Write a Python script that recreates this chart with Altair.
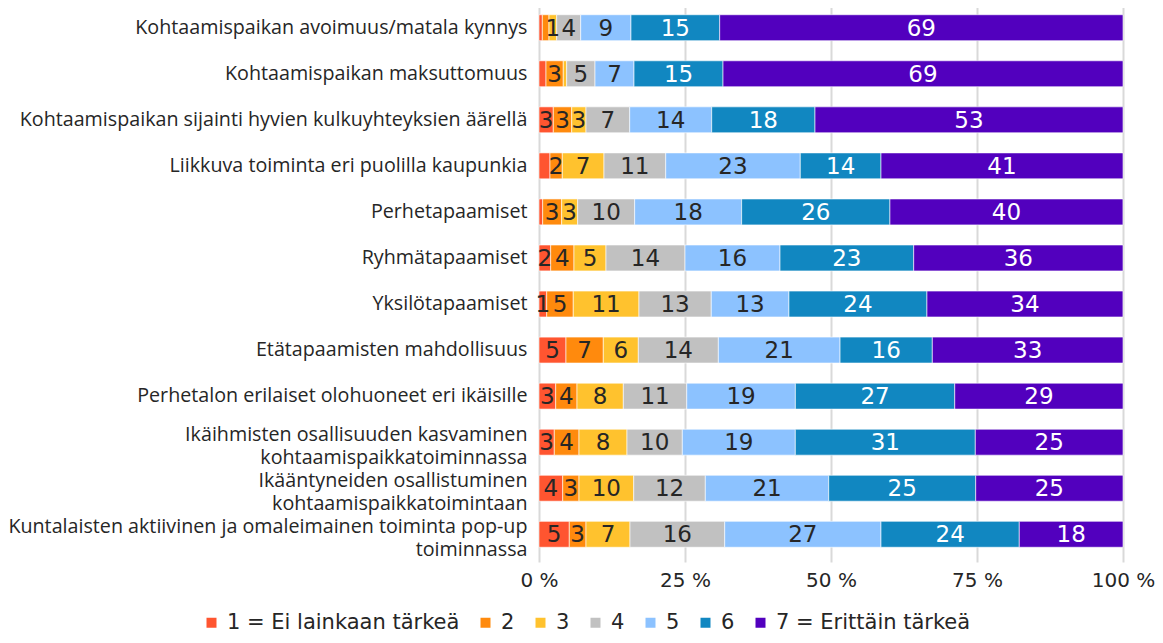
import altair as alt
import pandas as pd

categories = [
    "Kohtaamispaikan avoimuus/matala kynnys",
    "Kohtaamispaikan maksuttomuus",
    "Kohtaamispaikan sijainti hyvien kulkuyhteyksien äärellä",
    "Liikkuva toiminta eri puolilla kaupunkia",
    "Perhetapaamiset",
    "Ryhmätapaamiset",
    "Yksilötapaamiset",
    "Etätapaamisten mahdollisuus",
    "Perhetalon erilaiset olohuoneet eri ikäisille",
    "Ikäihmisten osallisuuden kasvaminen|kohtaamispaikkatoiminnassa",
    "Ikääntyneiden osallistuminen|kohtaamispaikkatoimintaan",
    "Kuntalaisten aktiivinen ja omaleimainen toiminta pop-up|toiminnassa",
]

levels = ["1 = Ei lainkaan tärkeä", "2", "3", "4", "5", "6", "7 = Erittäin tärkeä"]
colors = ["#FF5530", "#FF8A0D", "#FFC22E", "#C1C1C1", "#8CC2FF", "#1187C1", "#5200BE"]

# share (%) per level, one value per category (top to bottom)
lvl1 = [0.57, 1.20, 2.45, 1.88, 0.63, 2.00, 1.32, 4.62, 2.86, 2.62, 4.06, 5.19]
lvl2 = [1.14, 2.96, 3.15, 2.11, 3.25, 3.99, 4.55, 6.39, 3.65, 4.23, 2.79, 2.86]
lvl3 = [1.32, 0.58, 2.45, 7.14, 2.74, 5.48, 11.25, 6.00, 7.93, 8.22, 9.37, 7.53]
lvl4 = [4.11, 4.85, 7.48, 10.57, 9.76, 13.53, 12.38, 13.70, 10.86, 9.47, 12.26, 16.22]
lvl5 = [8.61, 6.68, 14.04, 23.04, 18.32, 16.27, 13.30, 20.84, 18.60, 19.35, 21.13, 26.76]
lvl6 = [15.19, 15.24, 17.69, 13.82, 25.39, 22.89, 23.63, 15.80, 27.29, 30.82, 25.17, 23.68]
lvl7 = [69.06, 68.49, 52.74, 41.44, 39.90, 35.84, 33.56, 32.65, 28.82, 25.29, 25.22, 17.76]

# data labels as printed in the chart
lab1 = ["", "", "3", "", "", "2", "1", "5", "3", "3", "4", "5"]
lab2 = ["", "3", "3", "2", "3", "4", "5", "7", "4", "4", "3", "3"]
lab3 = ["1", "", "3", "7", "3", "5", "11", "6", "8", "8", "10", "7"]
lab4 = ["4", "5", "7", "11", "10", "14", "13", "14", "11", "10", "12", "16"]
lab5 = ["9", "7", "14", "23", "18", "16", "13", "21", "19", "19", "21", "27"]
lab6 = ["15", "15", "18", "14", "26", "23", "24", "16", "27", "31", "25", "24"]
lab7 = ["69", "69", "53", "41", "40", "36", "34", "33", "29", "25", "25", "18"]

values = [lvl1, lvl2, lvl3, lvl4, lvl5, lvl6, lvl7]
labels = [lab1, lab2, lab3, lab4, lab5, lab6, lab7]

rows = []
for ci, cat in enumerate(categories):
    cum = 0.0
    for li, lev in enumerate(levels):
        v = values[li][ci]
        rows.append({
            "cat": cat,
            "level": lev,
            "order": li,
            "start": cum,
            "end": cum + v,
            "mid": cum + v / 2,
            "label": labels[li][ci],
            "tcolor": "#FFFFFF" if li >= 5 else "#262626",
        })
        cum += v
df = pd.DataFrame(rows)

FONT = "Open Sans"
NUMFONT = "DejaVu Sans"

y_enc = alt.Y(
    "cat:N",
    sort=categories,
    title=None,
    scale=alt.Scale(paddingInner=0.437, paddingOuter=0.32),
    axis=alt.Axis(
        labelExpr="split(datum.label, '|')",
        labelFontSize=19.7,
        labelFont=FONT,
        labelColor="#262626",
        labelLineHeight=23,
        labelPadding=12,
        labelLimit=700,
        labelOffset={"condition": {"test": "indexof(datum.value, '|') >= 0", "value": -7}, "value": 0},
        domain=False,
        ticks=False,
    ),
)

bars = alt.Chart(df).mark_bar(stroke="white", strokeWidth=0.6).encode(
    x=alt.X(
        "start:Q",
        scale=alt.Scale(domain=[0, 100], nice=False, zero=True),
        title=None,
        axis=alt.Axis(
            values=[0, 25, 50, 75, 100],
            labelExpr="datum.value + ' %'",
            labelFontSize=20,
            labelFont=NUMFONT,
            labelColor="#262626",
            labelPadding=8,
            labelFlush=False,
            labelBound=False,
            grid=True,
            gridColor="#D9D9D9",
            gridWidth=2,
            domain=False,
            ticks=False,
        ),
    ),
    x2="end:Q",
    y=y_enc,
    color=alt.Color(
        "level:N",
        scale=alt.Scale(domain=levels, range=colors),
        sort=levels,
        legend=alt.Legend(
            title=None,
            orient="none",
            direction="horizontal",
            legendX=-338,
            legendY=612,
            symbolType="square",
            symbolSize=100,
            symbolStrokeWidth=0,
            labelFontSize=21,
            labelFont=NUMFONT,
            labelColor="#262626",
            labelLimit=400,
            columnPadding=15,
            labelOffset=5,
        ),
    ),
    order=alt.Order("order:Q"),
)

texts = alt.Chart(df).mark_text(fontSize=23, font=NUMFONT, baseline="middle", dy=1).encode(
    x=alt.X("mid:Q"),
    y=alt.Y("cat:N", sort=categories),
    text="label:N",
    color=alt.Color("tcolor:N", scale=None),
)

chart = (
    alt.layer(bars, texts)
    .properties(
        width=584,
        height=562,
        autosize=alt.AutoSizeParams(type="none"),
        padding={"left": 531, "top": -8, "right": 32, "bottom": 72},
    )
    .configure_view(stroke=None)
)

chart.save("out.html", embed_options={"renderer": "svg", "actions": False})
